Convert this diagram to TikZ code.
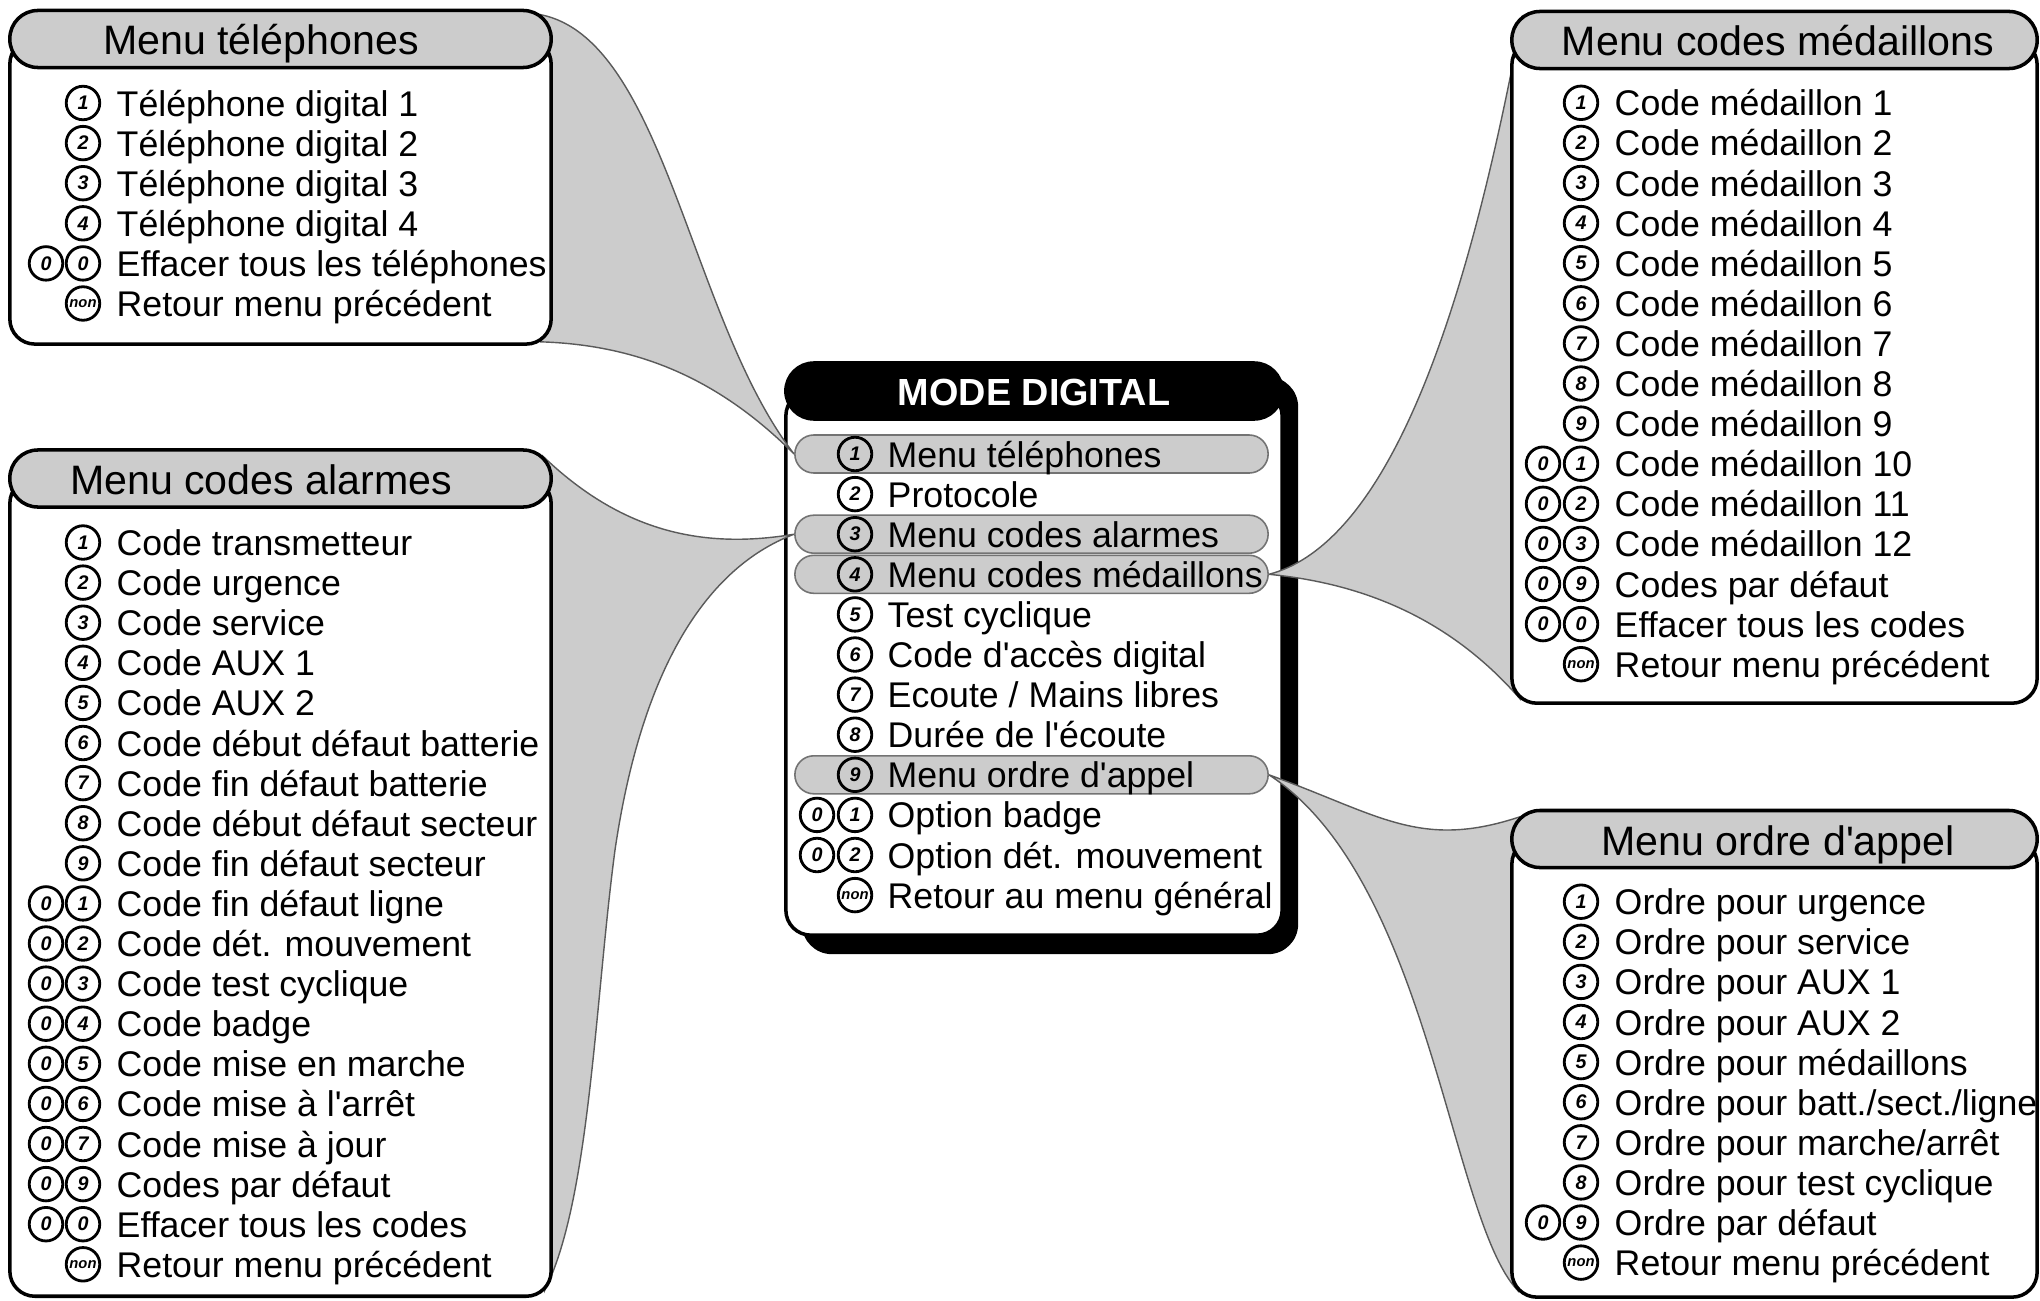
\documentclass[tikz,border=0pt]{standalone}
\usepackage{fontspec}
\setmainfont{Liberation Sans}[Ligatures=TeXOff]
\usepackage{tikz}
\usetikzlibrary{calc}
\definecolor{menuGray}{HTML}{CCCCCC}
\definecolor{linkEdge}{HTML}{5A5A5A}
\pgfdeclarelayer{back}
\pgfdeclarelayer{mid}
\pgfsetlayers{back,mid,main}
\tikzset{
  itm/.style={font=\fontsize{10.15}{12}\selectfont},
  ttl/.style={font=\fontsize{11.7}{14}\selectfont},
  num/.style={font=\bfseries\itshape\fontsize{5.6}{6}\selectfont},
}

\begin{document}
\begin{tikzpicture}[x=0.01cm, y=-0.01cm,
  panel/.style={draw, fill=white, line width=1pt, rounded corners=0.25cm,
                minimum width=5.41cm, inner sep=0pt},
  head/.style={draw, fill=menuGray, line width=1pt, rounded corners=0.28cm,
               minimum width=5.41cm, minimum height=0.57cm, inner sep=0pt},
  hdtext/.style={ttl, inner sep=0pt, text height=0.30cm, text depth=0pt},
  bar/.style={draw=black!55, fill=menuGray, line width=0.45pt, rounded corners=0.19cm,
              minimum width=4.73cm, minimum height=0.38cm, inner sep=0pt},
  numkey/.style={draw, circle, line width=0.8pt, minimum size=0.335cm, inner sep=0pt, num},
  nonkey/.style={font=\bfseries\itshape\fontsize{4.2}{5}\selectfont},
  entry/.style={itm, anchor=west, inner sep=0pt, text height=0.26cm, text depth=0pt},
  link/.style={fill=menuGray, draw=linkEdge, line width=0.4pt}]
  \useasboundingbox (0,0) rectangle (2040,1300);

  % mode digital
  \begin{pgfonlayer}{back}
    \node[fill=black, rounded corners=0.3cm, minimum width=4.96cm, minimum height=5.77cm] (digs) at (1050,665.5) {};
    \node[panel, minimum width=4.96cm, minimum height=5.44cm] (dig) at (1034,663) {};
    \node[head, fill=black, minimum width=4.96cm, minimum height=0.56cm] (digh) at (1034,391) {};
  \end{pgfonlayer}
  \node[text=white, inner sep=0pt, text height=0.27cm, text depth=0pt,
        font=\bfseries\fontsize{10.75}{13}\selectfont] (digt) at (1034,392) {MODE DIGITAL};
  \node[bar] (bar1) at (1031.5,454) {};
  \node[bar] (bar3) at (1031.5,534.2) {};
  \node[bar] (bar4) at (1031.5,574.3) {};
  \node[bar] (bar9) at (1031.5,774.8) {};
  \foreach \t [count=\k] in {Menu téléphones,Protocole,Menu codes alarmes,Menu codes médaillons,
      Test cyclique,Code d'accès digital,Ecoute / Mains libres,Durée de l'écoute,Menu ordre d'appel}{
    \node[numkey] (ck\k) at (855,413.9+40.1*\k) {\k};
    \node[entry] (ct\k) at (887,413.9+40.1*\k) {\t};
  }
  \foreach \k/\t [count=\r from 10] in {1/Option badge,2/Option dét. mouvement}{
    \node[numkey] (cz\r) at (817,413.9+40.1*\r) {0};
    \node[numkey] (ck\r) at (855,413.9+40.1*\r) {\k};
    \node[entry] (ct\r) at (887,413.9+40.1*\r) {\t};
  }
  \node[numkey, nonkey] (ck12) at (855,895.1) {non};
  \node[entry] (ct12) at (887,895.1) {Retour au menu général};

  % menu telephones
  \node[panel, minimum height=3.05cm] (tel) at (280.5,191.5) {};
  \node[head] (telh) at (280.5,39) {};
  \node[hdtext] (telt) at (261,39) {Menu téléphones};
  \foreach \t [count=\k] in {Téléphone digital 1,Téléphone digital 2,Téléphone digital 3,Téléphone digital 4}{
    \node[numkey] (tk\k) at (83,62.9+40.1*\k) {\k};
    \node[entry] (tt\k) at (116,62.9+40.1*\k) {\t};
  }
  \node[numkey] (tz5) at (46,263.4) {0};
  \node[numkey] (tk5) at (83,263.4) {0};
  \node[entry] (tt5) at (116,263.4) {Effacer tous les téléphones};
  \node[numkey, nonkey] (tk6) at (83,303.5) {non};
  \node[entry] (tt6) at (116,303.5) {Retour menu précédent};

  % menu codes alarmes
  \node[panel, minimum height=8.175cm] (alm) at (280.5,887.25) {};
  \node[head] (almh) at (280.5,478.5) {};
  \node[hdtext] (almt) at (261,479) {Menu codes alarmes};
  \foreach \t [count=\k] in {Code transmetteur,Code urgence,Code service,Code AUX 1,Code AUX 2,
      Code début défaut batterie,Code fin défaut batterie,Code début défaut secteur,Code fin défaut secteur}{
    \node[numkey] (ak\k) at (83,502.4+40.1*\k) {\k};
    \node[entry] (alt\k) at (116,502.4+40.1*\k) {\t};
  }
  \foreach \k/\t [count=\r from 10] in {1/Code fin défaut ligne,2/Code dét. mouvement,3/Code test cyclique,
      4/Code badge,5/Code mise en marche,6/Code mise à l'arrêt,7/Code mise à jour,9/Codes par défaut,
      0/Effacer tous les codes}{
    \node[numkey] (az\r) at (46,502.4+40.1*\r) {0};
    \node[numkey] (ak\r) at (83,502.4+40.1*\r) {\k};
    \node[entry] (alt\r) at (116,502.4+40.1*\r) {\t};
  }
  \node[numkey, nonkey] (ak19) at (83,1264.3) {non};
  \node[entry] (alt19) at (116,1264.3) {Retour menu précédent};

  % menu codes medaillons
  \node[panel, minimum width=5.25cm, minimum height=6.63cm] (med) at (1774.5,371.5) {};
  \node[head, minimum width=5.25cm] (medh) at (1774.5,40) {};
  \node[hdtext] (medt) at (1778,40) {Menu codes médaillons};
  \foreach \k in {1,...,9}{
    \node[numkey] (mk\k) at (1581,62.7+40.1*\k) {\k};
    \node[entry] (mt\k) at (1614,62.7+40.1*\k) {Code médaillon \k};
  }
  \foreach \k/\t [count=\r from 10] in {1/Code médaillon 10,2/Code médaillon 11,3/Code médaillon 12,
      9/Codes par défaut,0/Effacer tous les codes}{
    \node[numkey] (mz\r) at (1543,62.7+40.1*\r) {0};
    \node[numkey] (mk\r) at (1581,62.7+40.1*\r) {\k};
    \node[entry] (mt\r) at (1614,62.7+40.1*\r) {\t};
  }
  \node[numkey, nonkey] (mk15) at (1581,664.2) {non};
  \node[entry] (mt15) at (1614,664.2) {Retour menu précédent};

  % menu ordre d'appel
  \node[panel, minimum width=5.25cm, minimum height=4.58cm] (ord) at (1774.5,1068) {};
  \node[head, minimum width=5.25cm] (ordh) at (1774.5,839) {};
  \node[hdtext] (ordt) at (1778,840) {Menu ordre d'appel};
  \foreach \t [count=\k] in {Ordre pour urgence,Ordre pour service,Ordre pour AUX 1,Ordre pour AUX 2,
      Ordre pour médaillons,Ordre pour batt./sect./ligne,Ordre pour marche/arrêt,Ordre pour test cyclique}{
    \node[numkey] (ok\k) at (1581,861.6+40.1*\k) {\k};
    \node[entry] (ot\k) at (1614,861.6+40.1*\k) {\t};
  }
  \node[numkey] (oz9) at (1543,1222.5) {0};
  \node[numkey] (ok9) at (1581,1222.5) {9};
  \node[entry] (ot9) at (1614,1222.5) {Ordre par défaut};
  \node[numkey, nonkey] (ok10) at (1581,1262.6) {non};
  \node[entry] (ot10) at (1614,1262.6) {Retour menu précédent};

  % callouts
  \begin{pgfonlayer}{mid}
    \draw[link] ($(telh.north east)+(-12,6)$) .. controls (665,40) and (690,320) .. (bar1.west)
      .. controls (720,380) and (640,345) .. ($(tel.south east)+(-12,-4)$) -- cycle;
    \draw[link] ($(almh.north east)+(-10,8)$) .. controls (620,530) and (700,550) .. (bar3.west)
      .. controls (700,570) and (640,680) .. (615,850)
      .. controls (595,1000) and (590,1200) .. ($(alm.south east)+(-8,-8)$) -- cycle;
    \draw[link] (bar4.east) .. controls (1400,540) and (1475,270) .. ($(medh.north west)+(12,6)$)
      -- ($(med.south west)+(10,-6)$) .. controls (1460,630) and (1380,585) .. (bar4.east) -- cycle;
    \draw[link] (bar9.east) .. controls (1380,815) and (1420,850) .. ($(ordh.north west)+(10,8)$)
      -- ($(ord.south west)+(8,-8)$) .. controls (1450,1220) and (1430,880) .. (bar9.east) -- cycle;
  \end{pgfonlayer}
\end{tikzpicture}
\end{document}
